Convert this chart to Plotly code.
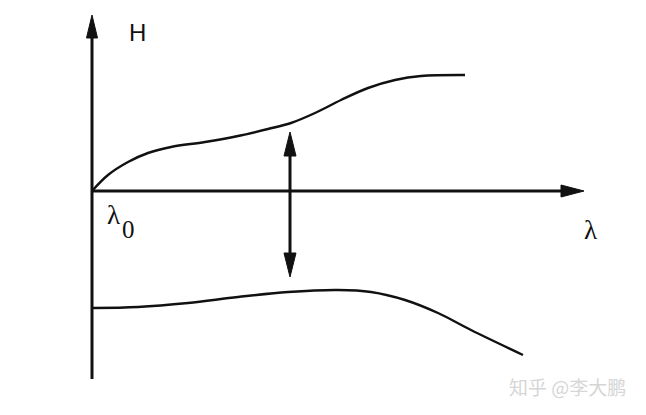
import plotly.graph_objects as go

# Schematic data (x = wavelength offset, y = H), origin at lambda_0
upper_x = [0, 16, 36, 56, 79, 113, 146, 176, 199, 223, 249, 276, 303, 329, 373]
upper_y = [0, 16, 29, 38, 44, 49, 55, 62, 68, 78, 91, 103, 111, 115, 116]
lower_x = [1, 46, 96, 146, 196, 246, 279, 313, 346, 379, 431]
lower_y = [-117, -116, -112, -106, -101, -99, -101, -109, -122, -139, -164]

# Axis extents
x_axis_end = 492
y_axis_top = 176
y_axis_bottom = -188
marker_x = 198
marker_top = 59
marker_bottom = -86

W, H = 646, 415
x0, y0 = 92, 191  # pixel location of origin

fig = go.Figure()

line_col = "#111111"

def seg(xs, ys, w):
    fig.add_trace(go.Scatter(x=xs, y=ys, mode="lines",
                             line=dict(color=line_col, width=w),
                             hoverinfo="skip", showlegend=False))

def tri(xs, ys):
    fig.add_trace(go.Scatter(x=xs, y=ys, mode="lines", fill="toself",
                             fillcolor=line_col, line=dict(color=line_col, width=1),
                             hoverinfo="skip", showlegend=False))

# axes
seg([0, x_axis_end - 20], [0, 0], 3)
tri([x_axis_end - 23, x_axis_end, x_axis_end - 23, x_axis_end - 23], [6, 0, -6, 6])
seg([0, 0], [y_axis_bottom, y_axis_top - 20], 3)
tri([-5.5, 0, 5.5, -5.5], [y_axis_top - 23, y_axis_top, y_axis_top - 23, y_axis_top - 23])

# double-headed marker
seg([marker_x, marker_x], [marker_bottom + 20, marker_top - 20], 3)
tri([marker_x - 6, marker_x, marker_x + 6, marker_x - 6], [marker_top - 24, marker_top, marker_top - 24, marker_top - 24])
tri([marker_x - 6, marker_x, marker_x + 6, marker_x - 6], [marker_bottom + 24, marker_bottom, marker_bottom + 24, marker_bottom + 24])

# curves
fig.add_trace(go.Scatter(x=upper_x, y=upper_y, mode="lines", line=dict(color=line_col, width=2.4, shape="spline", smoothing=1.0),
                         hoverinfo="skip", showlegend=False))
fig.add_trace(go.Scatter(x=lower_x, y=lower_y, mode="lines", line=dict(color=line_col, width=2.4, shape="spline", smoothing=1.0),
                         hoverinfo="skip", showlegend=False))

serif = "Liberation Serif, Times New Roman"
annotations = [
    dict(x=45, y=159, text="H", font=dict(family="Liberation Sans, Arial", size=24, color=line_col)),
    dict(x=21, y=-24, text="λ", font=dict(family=serif, size=27, color=line_col)),
    dict(x=36, y=-38, text="0", font=dict(family=serif, size=25, color=line_col)),
    dict(x=498, y=-39, text="λ", font=dict(family=serif, size=27, color=line_col)),
    dict(x=475, y=-195, text="知乎 @李大鹏", font=dict(family="Noto Sans CJK SC", size=19, color="#d6d6d6")),
]
for a in annotations:
    a.update(xref="x", yref="y", showarrow=False)

fig.update_layout(
    width=W, height=H,
    margin=dict(l=0, r=0, t=0, b=0),
    paper_bgcolor="white", plot_bgcolor="white",
    xaxis=dict(range=[-x0, W - x0], visible=False, fixedrange=True),
    yaxis=dict(range=[y0 - H, y0], visible=False, fixedrange=True),
    annotations=annotations,
    showlegend=False,
)
fig.write_html("out.html", config=dict(displayModeBar=False),
               post_script="document.body.style.margin='0';document.body.style.overflow='hidden';")
